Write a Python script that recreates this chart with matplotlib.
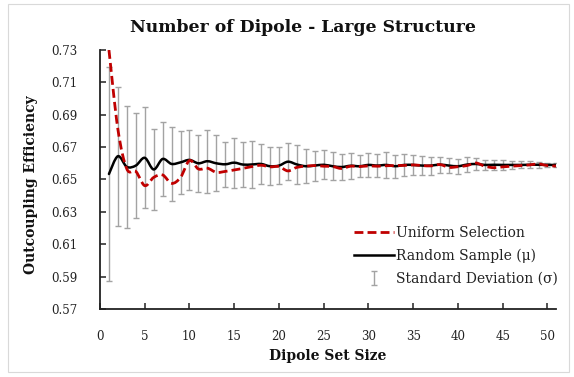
import numpy as np
import matplotlib
matplotlib.use("Agg")
import matplotlib.pyplot as plt
from matplotlib.path import Path
from matplotlib.patches import PathPatch, Rectangle
from matplotlib.lines import Line2D

# ---- data ----
set_size = list(range(1, 52))
uniform_selection = [
    0.7300, 0.6810, 0.6565, 0.6550, 0.6462, 0.6513, 0.6528, 0.6476, 0.6513, 0.6617,
    0.6565, 0.6570, 0.6544, 0.6550, 0.6559, 0.6569, 0.6580, 0.6588, 0.6578, 0.6580,
    0.6553, 0.6575, 0.6582, 0.6586, 0.6582, 0.6580, 0.6568, 0.6582, 0.6580, 0.6584,
    0.6582, 0.6585, 0.6586, 0.6587, 0.6590, 0.6586, 0.6584, 0.6592, 0.6575, 0.6579,
    0.6586, 0.6602, 0.6582, 0.6573, 0.6578, 0.6582, 0.6586, 0.6590, 0.6596, 0.6586,
    0.6583]
random_mean = [
    0.6534, 0.6644, 0.6578, 0.6586, 0.6634, 0.6562, 0.6627, 0.6596, 0.6606, 0.6621,
    0.6600, 0.6613, 0.6600, 0.6594, 0.6604, 0.6592, 0.6593, 0.6596, 0.6582, 0.6586,
    0.6610, 0.6593, 0.6582, 0.6586, 0.6591, 0.6582, 0.6577, 0.6585, 0.6582, 0.6590,
    0.6586, 0.6590, 0.6582, 0.6590, 0.6590, 0.6586, 0.6586, 0.6592, 0.6586, 0.6582,
    0.6592, 0.6596, 0.6590, 0.6591, 0.6590, 0.6590, 0.6590, 0.6591, 0.6591, 0.6590,
    0.6590]
random_std = [
    0.0660, 0.0430, 0.0375, 0.0325, 0.0313, 0.0253, 0.0228, 0.0227, 0.0195, 0.0187,
    0.0177, 0.0195, 0.0173, 0.0138, 0.0155, 0.0140, 0.0144, 0.0124, 0.0119, 0.0116,
    0.0114, 0.0120, 0.0106, 0.0093, 0.0089, 0.0087, 0.0083, 0.0079, 0.0069, 0.0072,
    0.0071, 0.0078, 0.0072, 0.0066, 0.0063, 0.0059, 0.0056, 0.0050, 0.0047, 0.0047,
    0.0045, 0.0038, 0.0031, 0.0031, 0.0031, 0.0027, 0.0022, 0.0021, 0.0020, 0.0015,
    0.0010]
y_ticks = [0.57, 0.59, 0.61, 0.63, 0.65, 0.67, 0.69, 0.71, 0.73]
x_ticks = [0, 5, 10, 15, 20, 25, 30, 35, 40, 45, 50]

title = "Number of Dipole - Large Structure"
x_label = "Dipole Set Size"
y_label = "Outcoupling Efficiency"
labels = ["Uniform Selection", "Random Sample (\u03bc)", "Standard Deviation (\u03c3)"]

SERIF = ["DejaVu Serif"]
RED = "#C00000"
GRAY = "#A3A3A3"
DASH = (0, (3.2, 1.5))


def smooth_path(xs, ys):
    """Excel-style smoothed line (Catmull-Rom as cubic Bezier)."""
    p = np.column_stack([xs, ys]).astype(float)
    n = len(p)
    verts = [p[0]]
    codes = [Path.MOVETO]
    for i in range(n - 1):
        p0 = p[i - 1] if i > 0 else p[i]
        p1 = p[i]
        p2 = p[i + 1]
        p3 = p[i + 2] if i + 2 < n else p[i + 1]
        c1 = p1 + (p2 - p0) / 6.0
        c2 = p2 - (p3 - p1) / 6.0
        verts += [c1, c2, p2]
        codes += [Path.CURVE4] * 3
    return Path(verts, codes)


W, H = 574, 377
fig = plt.figure(figsize=(W / 100, H / 100), dpi=100)
fig.patch.set_facecolor("white")
fig.patches.append(Rectangle((8 / W, 1 - 372 / H), (569 - 8) / W, (372 - 4) / H,
                             transform=fig.transFigure, fill=False,
                             edgecolor="#D9D9D9", lw=0.8))

ax = fig.add_axes([100 / W, 1 - 309 / H, (556.4 - 100) / W, (309 - 50) / H])

eb = ax.errorbar(set_size, random_mean, yerr=random_std, fmt="none",
                 ecolor=GRAY, elinewidth=1.0, capsize=2.2, capthick=1.0, zorder=1)

black_patch = PathPatch(smooth_path(set_size, random_mean), fill=False,
                        edgecolor="black", lw=1.8, zorder=2,
                        transform=ax.transData, capstyle="round", joinstyle="round")
ax.add_patch(black_patch)
red_patch = PathPatch(smooth_path(set_size, uniform_selection), fill=False,
                      edgecolor=RED, lw=2.0, zorder=3, linestyle=DASH,
                      transform=ax.transData)
ax.add_patch(red_patch)

ax.set_xlim(0, 51)
ax.set_ylim(0.57, 0.73)
ax.set_xticks(x_ticks)
ax.set_yticks(y_ticks)
ax.set_yticklabels([f"{v:.2f}" for v in y_ticks])
for s in ["top", "right"]:
    ax.spines[s].set_visible(False)
for s in ["left", "bottom"]:
    ax.spines[s].set_linewidth(1.3)
    ax.spines[s].set_color("#222222")
ax.tick_params(direction="in", length=4.5, width=1.1, color="#222222",
               labelsize=8.5, labelcolor="#222222")
ax.tick_params(axis="y", pad=16)
ax.tick_params(axis="x", pad=15)
for lab in ax.get_xticklabels() + ax.get_yticklabels():
    lab.set_family(SERIF)

fig.text(303 / W, 1 - 28 / H, title, ha="center", va="center",
         family=SERIF, fontweight="bold", fontsize=12.4, color="#111111")
fig.text(328 / W, 1 - 356 / H, x_label, ha="center", va="center",
         family=SERIF, fontweight="bold", fontsize=10, color="#111111")
fig.text(31 / W, 1 - 185 / H, y_label, ha="center", va="center", rotation=90,
         family=SERIF, fontweight="bold", fontsize=10, color="#111111")

h_red = Line2D([], [], color=RED, lw=2.0, linestyle=DASH)
h_black = Line2D([], [], color="black", lw=1.8)
leg = ax.legend([h_red, h_black, eb], labels, loc="upper left",
                bbox_to_anchor=(354 / W, 1 - 226 / H), bbox_transform=fig.transFigure,
                frameon=False, handlelength=2.9, handletextpad=0.15,
                labelspacing=0.64, borderaxespad=0, borderpad=0,
                prop={"family": SERIF, "size": 10})
for t in leg.get_texts():
    t.set_color("#222222")

fig.savefig("out.png", dpi=100, facecolor="white")
